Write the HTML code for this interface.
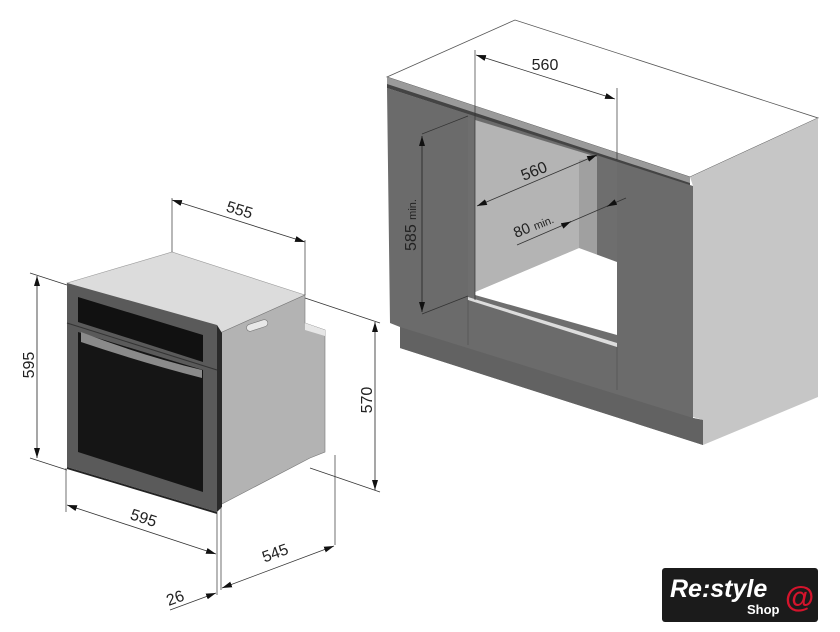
<!DOCTYPE html>
<html><head><style>
html,body{margin:0;padding:0;background:#fff;}
svg{display:block;}
text{font-family:"Liberation Sans",sans-serif;fill:#222;}
</style></head><body>
<svg width="840" height="632" viewBox="0 0 840 632" xmlns="http://www.w3.org/2000/svg">
<defs>
<marker id="a" markerWidth="10" markerHeight="6" refX="10" refY="3" orient="auto-start-reverse" markerUnits="userSpaceOnUse"><path d="M0,0 L10,3 L0,6z" fill="#111"/></marker>
</defs>
<!-- CABINET -->
<polygon points="387,77 515,20 818,118 690,177" fill="#fff" stroke="#555" stroke-width="0.8"/>
<polygon points="387,77 690,177 690,186 387,88" fill="#9a9a9a"/>
<polygon points="387,84 690,183 690,186 387,88" fill="#444"/>
<polygon points="690,177 818,118 818,397 703,445 703,420 693,417 693,186" fill="#c6c6c6"/>
<polygon points="387,88 693,186 693,418 703,420 703,445 400,348 400,327 390,323" fill="#6b6b6b"/>
<polygon points="400,327 693,418 703,420 703,445 400,348" fill="#626262"/>
<!-- opening -->
<polygon points="468,117 617,162 617,343 468,297" fill="#6e6e6e"/>
<polygon points="475,120 597,157 597,255 579,248 475,292" fill="#b4b4b4"/>
<polygon points="579,160 597,157 597,255 579,248" fill="#a0a0a0"/>
<polygon points="475,292 579,248 617,262 617,335 475,295" fill="#fff"/>
<polygon points="468,297 617,343 617,347 468,300" fill="#ddd"/>
<line x1="468" y1="300" x2="468" y2="345" stroke="#555" stroke-width="0.8"/>
<line x1="617" y1="347" x2="617" y2="390" stroke="#555" stroke-width="0.8"/>
<!-- cabinet dims -->
<line x1="475" y1="50" x2="475" y2="300" stroke="#333" stroke-width="0.7"/>
<line x1="617" y1="88" x2="617" y2="160" stroke="#333" stroke-width="0.7"/>
<line x1="476" y1="55" x2="615" y2="99" stroke="#333" stroke-width="0.8" marker-start="url(#a)" marker-end="url(#a)"/>
<text x="545" y="70" font-size="16" transform="rotate(0 545 70)" text-anchor="middle">560</text>
<line x1="477" y1="206" x2="597" y2="155" stroke="#333" stroke-width="0.8" marker-start="url(#a)" marker-end="url(#a)"/>
<text x="536" y="176" font-size="16" text-anchor="middle" transform="rotate(-22 536 176)">560</text>
<line x1="517" y1="245" x2="626" y2="198" stroke="#333" stroke-width="0.8"/>
<line x1="570" y1="222" x2="571" y2="221.5" stroke="#333" marker-end="url(#a)"/>
<line x1="608" y1="206" x2="607" y2="206.5" stroke="#333" marker-end="url(#a)"/>
<text x="516" y="238" font-size="15" transform="rotate(-22 516 238)">80 <tspan font-size="11">min.</tspan></text>
<line x1="422" y1="136" x2="422" y2="312" stroke="#222" stroke-width="0.8" marker-start="url(#a)" marker-end="url(#a)"/>
<line x1="422" y1="134" x2="468" y2="116" stroke="#333" stroke-width="0.7"/>
<line x1="422" y1="314" x2="468" y2="296" stroke="#333" stroke-width="0.7"/>
<text x="416" y="225" font-size="16" text-anchor="middle" transform="rotate(-90 416 225)">585 <tspan font-size="11">min.</tspan></text>

<!-- OVEN -->
<polygon points="67,283 172,252 305,295 220,333" fill="#dcdcdc" stroke="#999" stroke-width="0.6"/>
<polygon points="220,333 305,295 305,323 325,330 325,452 310,458 220,505" fill="#b3b3b3" stroke="#777" stroke-width="0.6"/>
<polygon points="305,323 325,330 325,336 305,330" fill="#e6e6e6"/>
<rect x="246" y="322" width="22" height="7" rx="3.5" fill="#e8e8e8" stroke="#777" stroke-width="0.6" transform="rotate(-18 257 325)"/>
<polygon points="67,283 217,325 217,512 67,467" fill="#5a5a5a"/>
<polygon points="217,325 222,333 222,507 217,512" fill="#2a2a2a"/>
<polygon points="78,297 203,335 203,362 78,322" fill="#111"/>
<line x1="67" y1="323" x2="217" y2="370" stroke="#333" stroke-width="1"/>
<polygon points="78,332 203,370 203,492 78,452" fill="#151515"/>
<path d="M81,332 Q140,355 202,370 L202,378 Q140,362 81,342z" fill="#8a8a8a"/>
<polygon points="67,467 217,512 217,514 67,469" fill="#222"/>
<!-- oven dims -->
<line x1="172" y1="198" x2="172" y2="252" stroke="#333" stroke-width="0.7"/>
<line x1="305" y1="240" x2="305" y2="295" stroke="#333" stroke-width="0.7"/>
<line x1="172" y1="200" x2="305" y2="242" stroke="#333" stroke-width="0.8" marker-start="url(#a)" marker-end="url(#a)"/>
<text x="238" y="215" font-size="16" text-anchor="middle" transform="rotate(17 238 215)">555</text>
<line x1="30" y1="273" x2="67" y2="285" stroke="#333" stroke-width="0.7"/>
<line x1="30" y1="458" x2="67" y2="470" stroke="#333" stroke-width="0.7"/>
<line x1="37" y1="276" x2="37" y2="458" stroke="#222" stroke-width="0.8" marker-start="url(#a)" marker-end="url(#a)"/>
<text x="34" y="365" font-size="16" text-anchor="middle" transform="rotate(-90 34 365)">595</text>
<line x1="305" y1="298" x2="380" y2="323" stroke="#333" stroke-width="0.7"/>
<line x1="310" y1="468" x2="380" y2="492" stroke="#333" stroke-width="0.7"/>
<line x1="375" y1="322" x2="375" y2="490" stroke="#222" stroke-width="0.8" marker-start="url(#a)" marker-end="url(#a)"/>
<text x="372" y="400" font-size="16" text-anchor="middle" transform="rotate(-90 372 400)">570</text>
<line x1="66" y1="468" x2="66" y2="512" stroke="#333" stroke-width="0.7"/>
<line x1="217" y1="512" x2="217" y2="595" stroke="#333" stroke-width="0.7"/>
<line x1="221" y1="507" x2="221" y2="590" stroke="#333" stroke-width="0.7"/>
<line x1="335" y1="455" x2="335" y2="545" stroke="#333" stroke-width="0.7"/>
<line x1="67" y1="505" x2="216" y2="554" stroke="#333" stroke-width="0.8" marker-start="url(#a)" marker-end="url(#a)"/>
<text x="142" y="523" font-size="16" text-anchor="middle" transform="rotate(18 142 523)">595</text>
<line x1="222" y1="588" x2="334" y2="546" stroke="#333" stroke-width="0.8" marker-start="url(#a)" marker-end="url(#a)"/>
<text x="277" y="558" font-size="16" text-anchor="middle" transform="rotate(-20 277 558)">545</text>
<line x1="170" y1="610" x2="216" y2="593" stroke="#333" stroke-width="0.7" marker-end="url(#a)"/>
<text x="177" y="603" font-size="16" text-anchor="middle" transform="rotate(-20 177 603)">26</text>

<!-- logo -->
<rect x="662" y="568" width="156" height="54" rx="3" fill="#1b1b1b"/>
<text x="670" y="597" font-size="25" font-style="italic" font-weight="bold" style="fill:#fff">Re:style</text>
<text x="747" y="614" font-size="13" font-weight="bold" style="fill:#fff">Shop</text>
<text x="785" y="607" font-size="30" font-weight="bold" style="fill:#d4142c">@</text>
</svg>
</body></html>
